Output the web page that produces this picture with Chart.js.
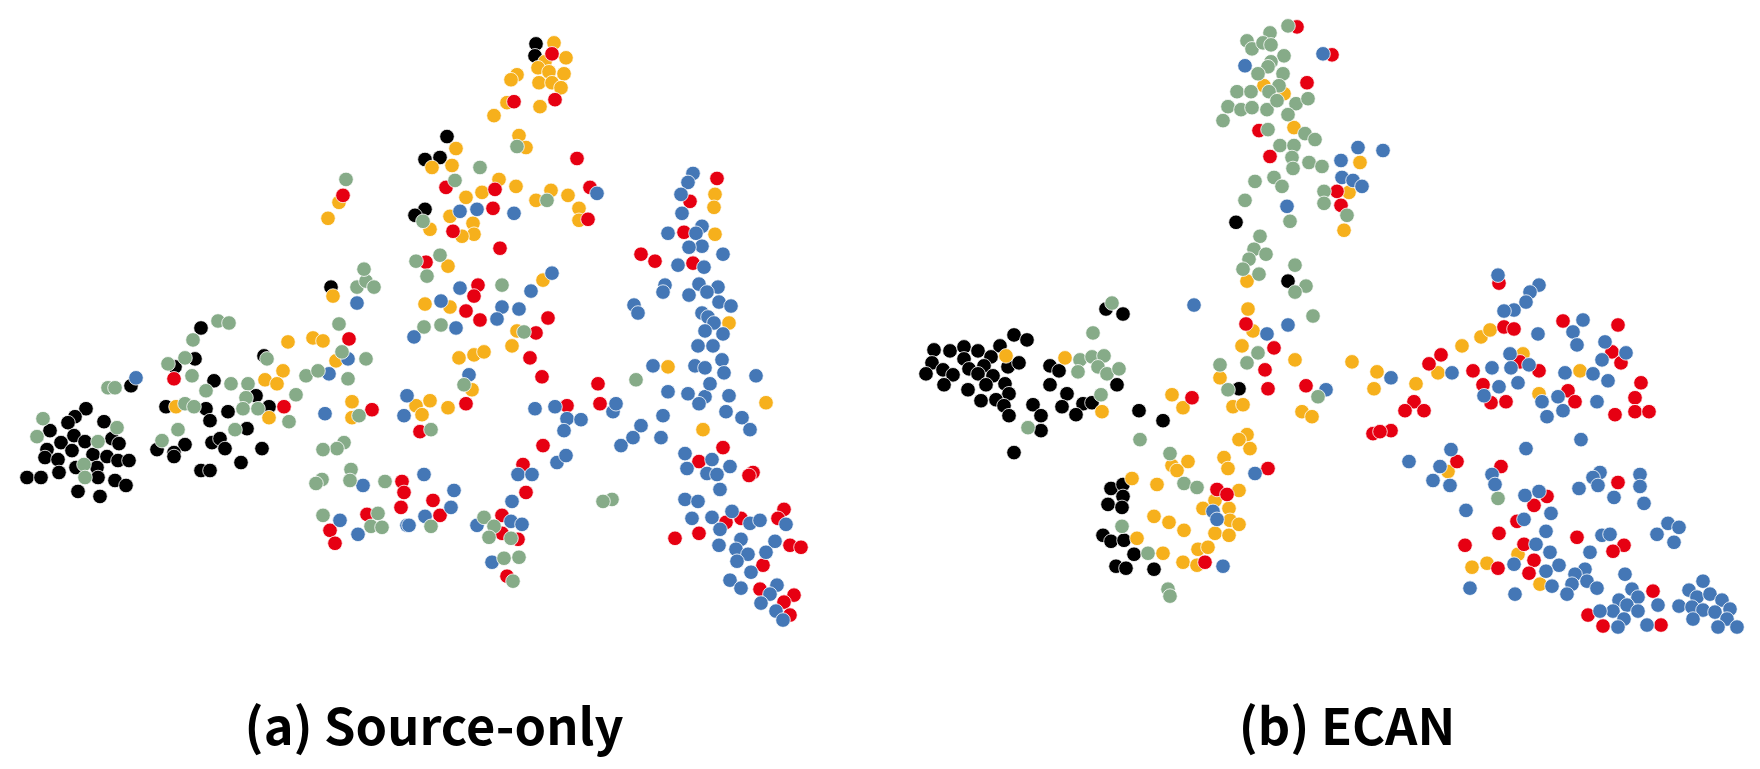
<!DOCTYPE html>
<html>
<head>
<meta charset="utf-8">
<style>
  html, body { margin: 0; padding: 0; background: #fff; overflow: hidden; }
  canvas { position: absolute; top: 0; }
  #chartA { left: 0; }
  #chartB { left: 880px; }
</style>
<script src="https://cdn.jsdelivr.net/npm/chart.js@4"></script>
</head>
<body>
<canvas id="chartA" width="868" height="769" style="width:868px;height:769px"></canvas>
<canvas id="chartB" width="934" height="769" style="width:934px;height:769px"></canvas>
<script>
// values, [x, y] in embedding units
const sourceGrey = [[357,288],[366,282],[374,288],[218,322],[229,324],[193,341],[339,325],[185,359],[168,365],[192,377],[108,389],[115,389],[206,392],[231,385],[248,385],[246,399],[267,360],[306,377],[318,372],[348,380],[366,360],[342,353],[296,396],[185,405],[194,408],[243,410],[258,410],[289,423],[235,431],[178,431],[162,442],[43,420],[117,429],[37,438],[98,443],[84,466],[85,479],[359,417],[344,444],[337,450],[323,451],[351,471],[350,482],[322,481],[316,485],[385,483],[323,517],[378,515],[371,528],[382,529],[346,180],[480,168],[455,181],[517,147],[547,201],[423,222],[416,262],[440,256],[427,277],[364,270],[502,286],[424,328],[441,326],[524,333],[464,386],[431,431],[431,528],[484,519],[494,528],[489,539],[511,540],[504,560],[519,559],[513,583],[612,501],[603,503],[636,381]];
const sourceBlue = [[357,304],[136,379],[348,360],[329,375],[325,415],[407,397],[404,417],[363,487],[340,522],[358,536],[407,527],[414,338],[460,212],[477,210],[514,214],[597,194],[552,274],[460,289],[531,292],[441,302],[502,308],[519,310],[497,320],[456,329],[469,376],[535,410],[555,408],[567,420],[581,421],[564,432],[613,413],[616,405],[621,447],[557,464],[566,457],[518,476],[532,476],[424,476],[454,492],[451,509],[512,503],[425,518],[409,527],[477,527],[511,523],[522,526],[492,564],[693,174],[688,183],[681,195],[682,214],[702,227],[668,234],[696,234],[702,247],[689,248],[723,255],[678,266],[704,268],[665,286],[663,293],[699,285],[718,288],[689,296],[707,293],[719,303],[731,307],[634,306],[638,314],[702,314],[708,318],[714,324],[705,332],[723,335],[698,347],[713,347],[722,361],[653,367],[695,367],[705,369],[724,374],[756,377],[641,427],[633,439],[663,417],[661,439],[668,393],[688,395],[705,398],[699,405],[710,385],[729,397],[726,413],[742,419],[750,431],[685,455],[712,461],[687,470],[730,468],[707,475],[717,476],[720,491],[685,501],[698,503],[732,513],[712,519],[692,520],[720,531],[750,525],[760,522],[786,526],[741,541],[719,547],[775,543],[736,551],[748,556],[766,554],[737,563],[751,574],[730,582],[741,590],[777,587],[770,596],[761,605],[776,613],[783,622]];
const sourceRed = [[349,340],[174,380],[284,408],[372,411],[402,483],[404,494],[401,509],[367,516],[330,532],[335,545],[552,54],[555,100],[514,102],[577,159],[590,188],[588,220],[446,188],[495,190],[493,209],[453,232],[500,249],[343,196],[426,263],[478,286],[474,297],[466,312],[480,321],[548,319],[536,334],[530,359],[542,378],[598,385],[600,405],[567,407],[466,405],[420,433],[543,447],[523,466],[526,494],[433,502],[440,517],[502,517],[502,535],[518,541],[507,578],[717,179],[690,202],[684,233],[641,255],[655,262],[693,264],[723,449],[699,463],[753,474],[749,477],[784,511],[778,520],[741,520],[726,524],[675,540],[699,535],[790,547],[801,549],[763,567],[760,591],[794,597],[784,604],[790,617]];
const sourceOrange = [[333,297],[288,343],[313,339],[323,342],[336,362],[283,372],[265,381],[277,385],[176,408],[269,419],[352,403],[352,419],[554,43],[566,58],[545,62],[538,68],[549,72],[564,74],[539,83],[552,83],[561,88],[517,75],[511,80],[507,103],[540,107],[494,116],[519,136],[526,148],[456,149],[452,166],[432,168],[339,203],[328,219],[499,180],[516,187],[482,193],[466,198],[450,217],[536,201],[551,191],[568,196],[579,209],[579,221],[430,230],[473,224],[474,235],[462,237],[448,267],[543,281],[425,305],[450,308],[517,332],[512,347],[459,359],[474,356],[484,353],[430,402],[416,407],[422,416],[448,409],[472,391],[715,195],[714,208],[715,235],[729,324],[668,368],[766,404],[703,431]];
const sourceBlack = [[331,288],[201,329],[195,360],[175,368],[264,357],[131,387],[214,382],[256,397],[166,408],[206,410],[228,413],[269,408],[210,422],[247,430],[86,410],[75,418],[68,424],[104,423],[50,432],[74,437],[61,444],[85,443],[112,440],[119,445],[47,451],[72,452],[93,456],[107,458],[118,462],[129,462],[45,459],[58,461],[76,469],[97,469],[98,479],[59,474],[27,479],[41,479],[115,482],[126,487],[78,493],[100,498],[157,451],[185,446],[174,454],[174,458],[212,444],[220,440],[225,450],[262,450],[241,464],[201,472],[210,472],[536,44],[535,56],[447,137],[425,160],[440,158],[425,210],[415,216]];

const ecanGrey = [[1288,26],[1270,33],[1247,41],[1252,49],[1263,43],[1271,45],[1284,56],[1271,62],[1268,67],[1258,74],[1283,74],[1279,86],[1237,92],[1251,92],[1269,92],[1228,107],[1241,110],[1252,108],[1267,110],[1277,101],[1296,104],[1308,99],[1288,115],[1223,121],[1268,130],[1305,134],[1315,140],[1280,146],[1294,146],[1292,158],[1293,169],[1309,163],[1322,167],[1274,178],[1255,182],[1282,187],[1245,201],[1324,192],[1324,204],[1347,216],[1290,222],[1260,237],[1254,250],[1266,255],[1249,260],[1243,270],[1259,275],[1295,266],[1306,287],[1295,293],[1313,317],[1258,354],[1247,364],[1220,366],[1228,391],[1318,398],[1112,304],[1093,334],[1080,361],[1092,358],[1104,357],[1098,368],[1078,373],[1107,375],[1119,370],[1101,396],[1028,429],[1140,441],[1170,455],[1184,485],[1197,489],[1122,528],[1148,555],[1168,591],[1170,598],[1498,500]];
const ecanBlue = [[1323,54],[1245,66],[1358,148],[1383,151],[1341,161],[1342,178],[1353,181],[1362,187],[1287,207],[1194,306],[1288,326],[1267,335],[1326,391],[1255,475],[1213,513],[1217,521],[1223,568],[1498,276],[1539,286],[1530,293],[1526,303],[1514,311],[1504,312],[1583,321],[1573,333],[1538,335],[1577,346],[1605,343],[1626,354],[1602,361],[1510,355],[1529,366],[1492,369],[1511,369],[1452,374],[1391,379],[1565,374],[1593,375],[1608,382],[1499,388],[1518,384],[1484,397],[1558,398],[1542,403],[1597,403],[1563,412],[1547,418],[1581,441],[1526,450],[1451,451],[1409,463],[1440,468],[1433,482],[1450,487],[1492,476],[1495,486],[1600,474],[1593,479],[1598,487],[1640,476],[1640,488],[1579,490],[1614,499],[1644,505],[1525,497],[1539,493],[1466,512],[1551,515],[1524,521],[1668,525],[1679,529],[1657,536],[1674,544],[1546,533],[1602,537],[1610,536],[1536,546],[1550,554],[1590,554],[1514,566],[1559,567],[1546,573],[1585,571],[1575,576],[1625,576],[1587,583],[1572,586],[1597,590],[1552,588],[1567,596],[1470,590],[1515,596],[1632,591],[1638,599],[1619,602],[1627,607],[1658,607],[1638,613],[1613,613],[1600,613],[1624,621],[1618,629],[1647,627],[1703,583],[1689,592],[1697,599],[1710,596],[1722,602],[1679,608],[1692,609],[1703,612],[1715,614],[1730,611],[1693,621],[1727,621],[1718,629],[1737,629]];
const ecanRed = [[1297,27],[1332,55],[1307,83],[1259,131],[1270,157],[1337,192],[1341,206],[1246,325],[1274,349],[1265,371],[1268,390],[1306,387],[1192,399],[1373,435],[1217,491],[1227,496],[1268,470],[1205,564],[1499,284],[1563,322],[1618,326],[1504,328],[1514,330],[1441,356],[1429,365],[1612,353],[1621,364],[1473,372],[1539,372],[1520,363],[1483,386],[1641,384],[1568,392],[1575,403],[1635,399],[1491,404],[1506,403],[1414,403],[1405,412],[1424,412],[1615,416],[1635,413],[1649,413],[1391,432],[1380,433],[1457,463],[1501,468],[1618,484],[1547,498],[1534,507],[1517,523],[1499,535],[1577,539],[1465,547],[1524,546],[1624,547],[1613,553],[1534,562],[1498,570],[1529,575],[1653,593],[1588,617],[1603,628],[1661,627]];
const ecanOrange = [[1264,86],[1284,94],[1294,128],[1360,163],[1349,193],[1344,231],[1247,282],[1248,310],[1253,332],[1242,347],[1295,361],[1352,363],[1377,373],[1374,390],[1220,379],[1172,396],[1183,409],[1233,408],[1243,406],[1302,413],[1312,418],[1247,436],[1239,441],[1250,450],[1006,357],[1065,359],[1102,413],[1188,463],[1172,467],[1177,472],[1224,459],[1228,470],[1132,480],[1157,486],[1239,492],[1215,502],[1203,510],[1229,510],[1154,518],[1169,524],[1184,532],[1230,522],[1239,526],[1215,535],[1229,537],[1137,540],[1163,555],[1198,551],[1208,549],[1183,564],[1197,567],[1416,385],[1438,374],[1462,347],[1481,338],[1490,331],[1523,355],[1580,372],[1539,395],[1448,473],[1518,556],[1487,565],[1472,569],[1540,586]];
const ecanBlack = [[1236,223],[1288,282],[1239,390],[1163,422],[1106,310],[1123,315],[1014,336],[1027,341],[934,351],[950,352],[964,348],[978,352],[1000,347],[991,358],[964,360],[932,364],[943,371],[926,375],[953,376],[969,370],[984,367],[978,375],[1008,368],[1019,364],[993,377],[944,386],[986,386],[1005,385],[968,391],[1009,395],[981,402],[996,401],[1004,407],[1009,417],[1033,406],[1041,417],[1041,432],[1014,454],[1050,367],[1059,372],[1050,386],[1067,395],[1062,408],[1083,405],[1076,416],[1092,404],[1117,386],[1139,412],[1111,490],[1123,486],[1123,498],[1108,506],[1122,509],[1103,537],[1111,543],[1124,542],[1134,556],[1116,568],[1126,570],[1154,571]];

const colors = { grey: '#86ab88', blue: '#4477b6', red: '#e60012', orange: '#f6b01c', black: '#000000' };

function dataset(name, points) {
  return {
    label: name,
    data: points,
    backgroundColor: colors[name],
    borderColor: '#ffffff',
    borderWidth: 0.8,
    pointRadius: 7.3,
    clip: false
  };
}

function panel(id, title, xMin, xMax, series) {
  return new Chart(document.getElementById(id), {
    type: 'scatter',
    data: {
      datasets: [
        dataset('grey', series[0]),
        dataset('blue', series[1]),
        dataset('red', series[2]),
        dataset('orange', series[3]),
        dataset('black', series[4])
      ]
    },
    options: {
      responsive: false,
      animation: false,
      layout: { autoPadding: false, padding: 0 },
      scales: {
        x: { type: 'linear', display: false, min: xMin, max: xMax },
        y: { type: 'linear', display: false, reverse: true, min: 0, max: 640 }
      },
      plugins: {
        legend: { display: false },
        tooltip: { enabled: false },
        title: {
          display: true,
          text: title,
          position: 'bottom',
          color: '#000',
          font: { family: '"Noto Sans CJK SC", "Noto Sans"', size: 50.5, weight: 'bold', lineHeight: '52px' },
          padding: { top: 62, bottom: 17 }
        }
      }
    }
  });
}

panel('chartA', '(a) Source-only', 0, 868, [sourceGrey, sourceBlue, sourceRed, sourceOrange, sourceBlack]);
panel('chartB', '(b) ECAN', 880, 1814, [ecanGrey, ecanBlue, ecanRed, ecanOrange, ecanBlack]);
</script>
</body>
</html>
